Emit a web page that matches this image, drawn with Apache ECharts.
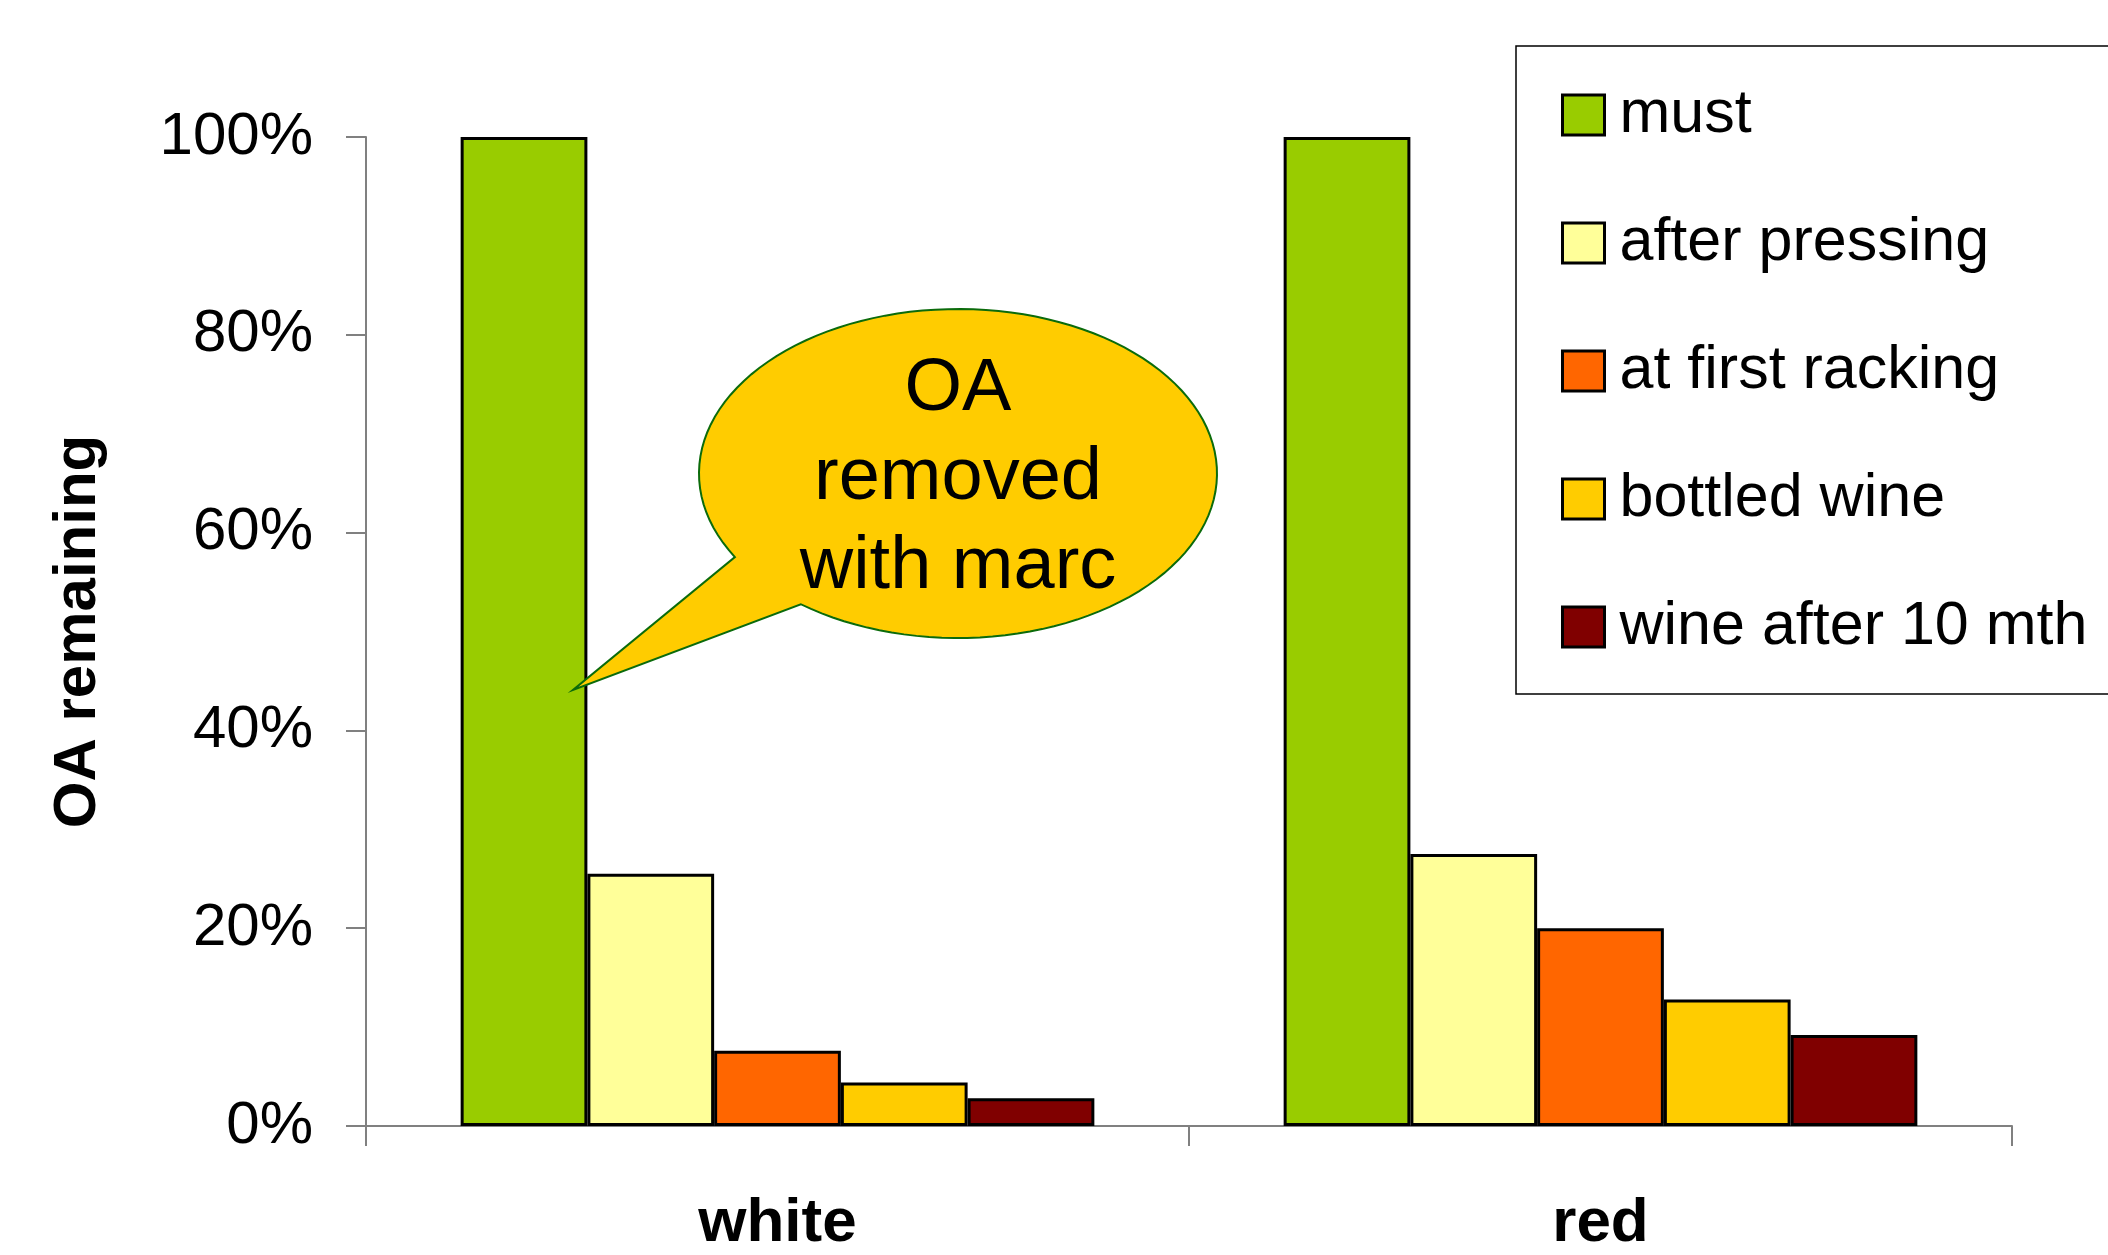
<!DOCTYPE html>
<html>
<head>
<meta charset="utf-8">
<script src="https://cdn.jsdelivr.net/npm/echarts@6/dist/echarts.min.js"></script>
<style>
html,body{margin:0;padding:0;background:#fff;}
#main{width:2108px;height:1255px;}
</style>
</head>
<body>
<div id="main"></div>
<script>
var categories = ['white', 'red'];
var seriesNames = ['must', 'after pressing', 'at first racking', 'bottled wine', 'wine after 10 mth'];
var must = [100, 100];
var afterPressing = [25.5, 27.5];
var firstRacking = [7.6, 20.0];
var bottledWine = [4.4, 12.8];
var wineAfter10 = [2.8, 9.2];
var seriesColors = ['#99CC00', '#FFFF99', '#FF6600', '#FFCC00', '#800000'];
var yMin = 0, yMax = 100, yInterval = 20;
var calloutText = 'OA\nremoved\nwith marc';

var FONT = '"Liberation Sans", Arial, sans-serif';
var chart = echarts.init(document.getElementById('main'), null, {renderer: 'canvas'});
var values = [must, afterPressing, firstRacking, bottledWine, wineAfter10];

var series = seriesNames.map(function (n, i) {
  return {
    name: n,
    type: 'bar',
    data: values[i],
    barGap: '0%',
    barCategoryGap: '23%',
    itemStyle: {color: seriesColors[i], borderColor: '#000', borderWidth: 3},
    emphasis: {disabled: true},
    z: 2
  };
});

// speech-bubble outline: ellipse arc plus pointer tail
function bubblePoints(cx, cy, rx, ry, a0, a1, tip) {
  var pts = [];
  var n = 120;
  for (var k = 0; k <= n; k++) {
    var t = a0 + (a1 - a0) * k / n;
    pts.push([cx + rx * Math.cos(t), cy + ry * Math.sin(t)]);
  }
  pts.push(tip);
  return pts;
}
var cx = 958, cy = 473.5, rx = 259, ry = 164.5;
var aStart = Math.atan2((557 - cy) / ry, (735 - cx) / rx);
var aEnd = Math.atan2((604 - cy) / ry, (801 - cx) / rx) + 2 * Math.PI;
var bubble = bubblePoints(cx, cy, rx, ry, aStart, aEnd, [573, 690]);

var option = {
  animation: false,
  backgroundColor: '#ffffff',
  textStyle: {fontFamily: FONT},
  grid: {left: 366, right: 96, top: 137, bottom: 128, containLabel: false},
  legend: {
    orient: 'vertical',
    left: 1556,
    top: 78,
    itemWidth: 42,
    itemHeight: 40,
    itemGap: 64,
    icon: 'rect',
    selectedMode: false,
    textStyle: {fontFamily: FONT, fontSize: 61, color: '#000', lineHeight: 64, padding: [0, 0, 0, 10]},
    itemStyle: {borderColor: '#000', borderWidth: 3},
    data: seriesNames
  },
  xAxis: {
    type: 'category',
    data: categories,
    axisLine: {lineStyle: {color: '#808080', width: 2}},
    axisTick: {show: true, length: 20, lineStyle: {color: '#808080', width: 2}},
    axisLabel: {color: '#000', fontFamily: FONT, fontSize: 62, fontWeight: 'bold', margin: 67}
  },
  yAxis: {
    type: 'value',
    min: yMin, max: yMax, interval: yInterval,
    name: 'OA remaining',
    nameLocation: 'middle',
    nameGap: 258,
    nameTextStyle: {color: '#000', fontFamily: FONT, fontSize: 60, fontWeight: 'bold'},
    axisLine: {show: true, lineStyle: {color: '#808080', width: 2}},
    axisTick: {show: true, length: 20, lineStyle: {color: '#808080', width: 2}},
    splitLine: {show: false},
    axisLabel: {color: '#000', fontFamily: FONT, fontSize: 60, margin: 53, formatter: '{value}%'}
  },
  series: series,
  graphic: [
    {
      type: 'rect',
      shape: {x: 1516, y: 46, width: 700, height: 648},
      style: {fill: 'none', stroke: '#000', lineWidth: 1.5},
      z: 0,
      silent: true
    },
    {
      type: 'polygon',
      shape: {points: bubble},
      style: {fill: '#FFCC00', stroke: '#0B6B0B', lineWidth: 2},
      z: 10,
      silent: true
    },
    {
      type: 'text',
      x: 958,
      y: 479,
      style: {
        text: calloutText,
        font: '74px ' + FONT,
        fill: '#000',
        align: 'center',
        verticalAlign: 'middle',
        lineHeight: 89
      },
      z: 11,
      silent: true
    }
  ]
};
chart.setOption(option);
</script>
</body>
</html>
